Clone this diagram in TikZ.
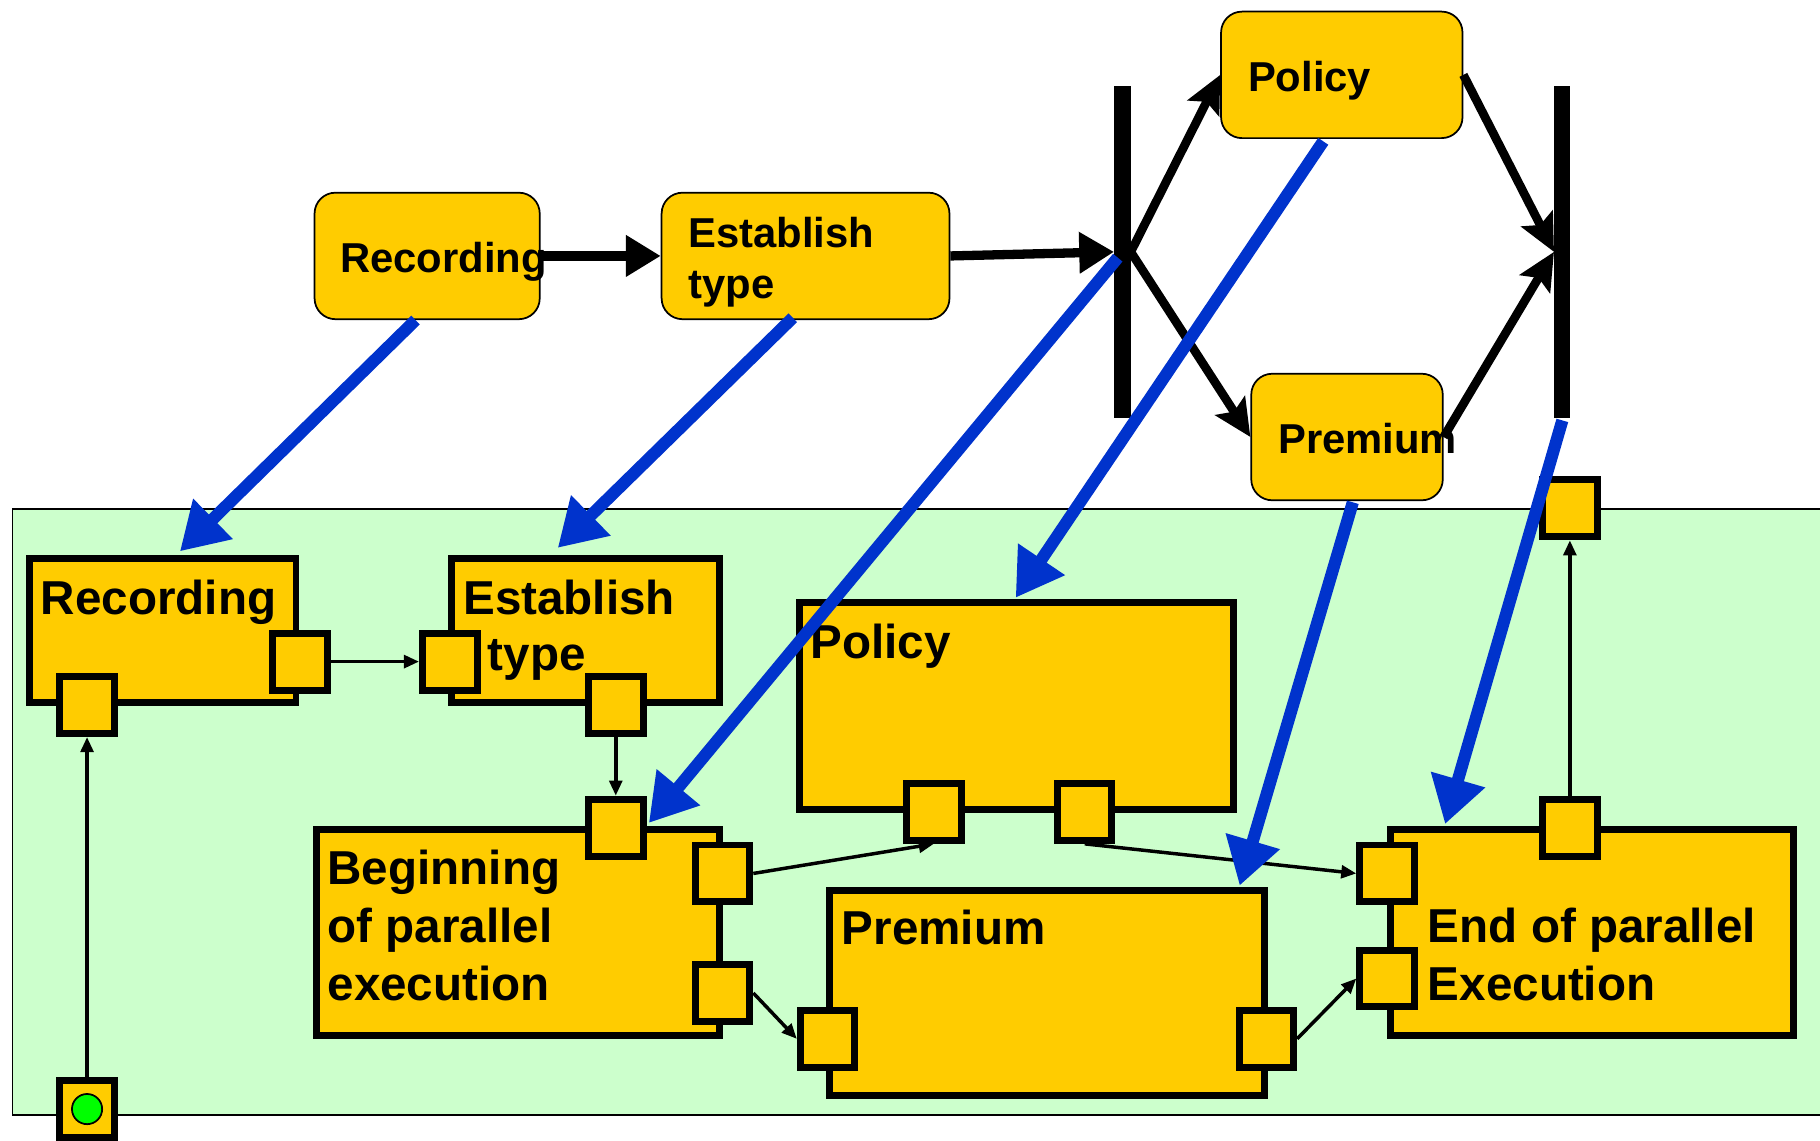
\documentclass[tikz,border=0pt]{standalone}
\usepackage{fontspec}
\setmainfont{Liberation Sans}
\usetikzlibrary{arrows.meta,calc}
\definecolor{ycol}{HTML}{FFCC00}
\definecolor{bgcol}{HTML}{CCFFCC}
\definecolor{bcol}{HTML}{0033CC}
\definecolor{gcol}{HTML}{00FF00}
\begin{document}
\begin{tikzpicture}[x=1pt,y=-1pt,
 topbox/.style={draw, fill=ycol, line width=1.5pt, rounded corners=18pt, inner sep=0pt},
 lowbox/.style={draw, fill=ycol, line width=6pt, inner sep=0pt},
 port/.style={draw, fill=ycol, line width=6pt, inner sep=0pt, minimum width=47pt, minimum height=49pt},
 toptext/.style={anchor=base west, inner sep=0pt, align=left, font=\fontsize{36}{44}\selectfont\bfseries},
 lowtext/.style={anchor=base west, inner sep=0pt, align=left, font=\fontsize{41}{50}\selectfont\bfseries},
 bar/.style={fill=black, inner sep=0pt, minimum width=14pt, minimum height=286pt},
 flow/.style={line width=7.5pt, -{Stealth[length=32pt,width=30pt,inset=6pt]}},
 flowtri/.style={line width=8pt, -{Triangle[length=30pt,width=34pt]}},
 map/.style={draw=bcol, line width=10.5pt, -{Triangle[length=40pt,width=46pt]}},
 thin/.style={line width=3pt, -{Triangle[length=13pt,width=11pt]}},
]
\useasboundingbox (0,0) rectangle (1568,983);
% background
\node[draw, fill=bgcol, line width=1.5pt, anchor=north west, inner sep=0pt,
      minimum width=1570pt, minimum height=522pt] (bg) at (10,438) {};
% top boxes
\node[topbox, minimum width=194pt, minimum height=109pt] (tRec)  at (368,220.5) {};
\node[topbox, minimum width=248pt, minimum height=109pt] (tEst)  at (694,220.5) {};
\node[topbox, minimum width=208pt, minimum height=109pt] (tPol)  at (1156,64.5) {};
\node[topbox, minimum width=165pt, minimum height=109pt] (tPrem) at (1160.5,376.5) {};
% bars
\node[bar] (fork) at (967,217) {};
\node[bar] (join) at (1346,217) {};
% flow arrows
\draw[flowtri] (tRec.east) -- (tEst.west);
\draw[flowtri] (tEst.east) -- (fork.west);
\draw[flow] (fork.east) -- (tPol.west);
\draw[flow] (fork.east) -- (tPrem.west);
\draw[flow] (tPol.east) -- (join.west);
\draw[flow] (tPrem.east) -- (join.west);
% top texts
\node[toptext] (tRecT)  at (293,235) {Recording};
\node[toptext] (tEstT)  at (593,257) {Establish\\type};
\node[toptext] (tPolT)  at (1075,79) {Policy};
\node[toptext] (tPremT) at (1101,391) {Premium};
% lower boxes
\node[lowbox, minimum width=230pt, minimum height=124pt] (lRec)  at (140,543) {};
\node[lowbox, minimum width=231pt, minimum height=124pt] (lEst)  at (504.5,543) {};
\node[lowbox, minimum width=374pt, minimum height=178pt] (lPol)  at (876,608) {};
\node[lowbox, minimum width=347pt, minimum height=177pt] (lBeg)  at (446.5,803.5) {};
\node[lowbox, minimum width=374pt, minimum height=177pt] (lPrem) at (902,855.5) {};
\node[lowbox, minimum width=347pt, minimum height=177pt] (lEnd)  at (1371.5,803.5) {};
% lower texts
\node[lowtext] (lRecT)  at (35,529) {Recording};
\node[lowtext] (lEstT)  at (399,529) {Establish};
\node[lowtext] (lEstT2) at (420,578) {type};
\node[lowtext] (lPolT)  at (698,567) {Policy};
\node[lowtext] (lBegT)  at (282,862) {Beginning\\of parallel\\execution};
\node[lowtext] (lPremT) at (725,814) {Premium};
\node[lowtext] (lEndT)  at (1230,862) {End of parallel\\Execution};
% ports
\node[port] (pR1) at (258.5,570) {};
\node[port] (pR2) at (75,607.5) {};
\node[port] (pE1) at (387.5,570) {};
\node[port] (pE2) at (530.5,607.5) {};
\node[port] (pP1) at (804.5,699.5) {};
\node[port] (pP2) at (934.5,699.5) {};
\node[port] (pB1) at (530.5,713) {};
\node[port] (pB2) at (622.5,752.5) {};
\node[port] (pB3) at (622.5,855.5) {};
\node[port] (pM1) at (713,895) {};
\node[port] (pM2) at (1091,895) {};
\node[port] (pX1) at (1195,752.5) {};
\node[port] (pX2) at (1195,843) {};
\node[port] (pX3) at (1352.5,713) {};
\node[port] (pT)  at (1352.5,438) {};
\node[port] (pS)  at (75,955.5) {};
\node[circle, draw, line width=1.5pt, fill=gcol, minimum size=26pt, inner sep=0pt] (start) at (pS.center) {};
% thin connectors
\draw[thin] (pR1.east) -- (pE1.west);
\draw[thin] (pS.north) -- (pR2.south);
\draw[thin] (pE2.south) -- (pB1.north);
\draw[thin] (pB2.east) -- (pP1.south);
\draw[thin] (pB3.east) -- (pM1.west);
\draw[thin] (pP2.south) -- (pX1.west);
\draw[thin] (pM2.east) -- (pX2.west);
\draw[thin] (pX3.north) -- (pT.south);
% mapping arrows
\draw[map] ($(tRec.south)+(-10,0)$) -- ($(lRec.north)+(15,-3)$);
\draw[map] ($(tEst.south)+(-11,-2)$) -- ($(lEst.north)+(-24,-6)$);
\draw[map] ($(fork.center)+(-4,5)$) -- ($(pB1.east)+(2,-4)$);
\draw[map] ($(tPol.south)+(-16,2)$) -- ($(lPol.north)+(-1,-1)$);
\draw[map] ($(tPrem.south)+(5,1)$) -- ($(lPrem.north)+(166,-1)$);
\draw[map] ($(join.south)+(0,2)$) -- ($(lEnd.north west)+(50,-2)$);
\end{tikzpicture}
\end{document}
